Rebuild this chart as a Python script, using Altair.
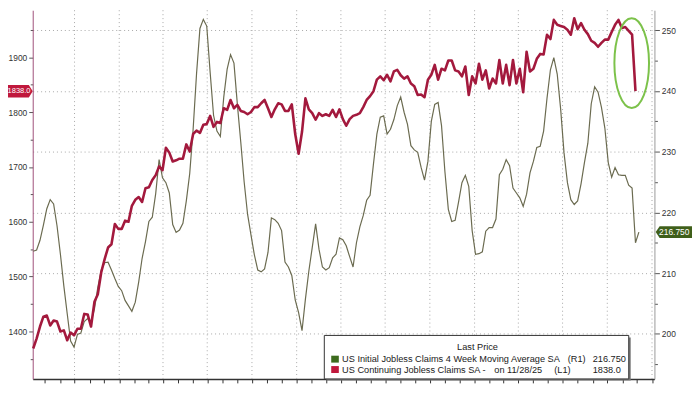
import altair as alt
import pandas as pd

# ---------------- data ----------------
# US Continuing Jobless Claims SA (thousands), weekly, last = 11/28/25
red_values = [
    1369, 1387, 1409, 1427, 1429, 1411, 1420, 1418, 1400, 1402,
    1384, 1398, 1393, 1405, 1405, 1432, 1431, 1409, 1454, 1468,
    1508, 1532, 1553, 1559, 1596, 1587, 1587, 1602, 1600, 1629,
    1640, 1645, 1636, 1661, 1663, 1676, 1685, 1701, 1694, 1735,
    1726, 1710, 1712, 1715, 1715, 1741,
    1728, 1760, 1766, 1762, 1777, 1778, 1793, 1773, 1782, 1780,
    1807, 1804, 1822, 1807, 1813, 1802, 1800, 1796, 1800, 1809,
    1809, 1816, 1822, 1807, 1791, 1805, 1816, 1814, 1802, 1802,
    1814, 1760, 1724, 1764, 1825, 1805, 1798, 1786, 1798, 1793,
    1796, 1793, 1804, 1791, 1805,
    1787, 1775, 1787, 1793, 1795, 1798, 1809, 1822, 1829, 1838,
    1859, 1865, 1858, 1868, 1856, 1874, 1877, 1867, 1861, 1865,
    1852, 1847, 1831, 1832, 1827, 1859, 1868, 1886, 1859, 1879,
    1876, 1894, 1894, 1876, 1874, 1865, 1883, 1831, 1865, 1852,
    1888, 1859, 1876, 1843, 1861,
    1852, 1895, 1852, 1886, 1849, 1895, 1852, 1879, 1836, 1910,
    1874, 1879, 1897, 1906, 1905, 1941, 1933, 1968, 1959, 1957,
    1955, 1950, 1941, 1971, 1951, 1962, 1950, 1942, 1930, 1926,
    1919, 1926, 1932, 1932, 1946, 1959, 1968, 1953, 1955, 1948,
    1941, 1838.0,
]
red_last_date = "2025-11-28"

# US Initial Jobless Claims 4 Week Moving Average SA (thousands), weekly
green_values = [
    213.6, 213.8, 215.4, 217.9, 220.6, 222.1, 221.4, 217.8, 213.1, 207.9,
    203.3, 198.8, 197.8, 199.9, 200.1, 202.0, 202.5, 201.9, 204.1, 207.7,
    210.5, 211.7, 211.8, 210.5, 209.1, 207.8, 207.1, 205.5, 204.6, 203.7,
    205.2, 208.5, 212.4, 215.2, 218.5, 219.2, 223.1, 228.7, 225.7, 224.9,
    223.2, 218.0, 216.7, 217.1, 218.2, 221.9, 226.4, 233.7, 242.8, 250.3,
    251.8, 250.7, 243.1, 236.0, 233.4, 232.5, 239.0, 243.6, 246.0, 244.6,
    237.8, 231.6, 225.0, 219.7, 216.3, 213.0, 210.5, 210.2, 210.7, 213.4,
    219.1, 218.8, 218.2, 217.0, 211.8, 211.0, 209.6, 205.6, 203.5, 200.5,
    205.7, 210.3, 214.2, 218.1, 213.9, 211.0, 210.5, 210.9, 212.5, 213.1,
    215.8, 215.5, 214.5, 212.7, 211.0, 215.0, 217.6, 219.5, 222.0, 222.8,
    228.0, 232.9, 235.7, 235.9, 232.9, 233.7, 235.3, 237.6, 239.0, 236.5,
    234.5, 231.0, 230.3, 229.9, 227.4, 225.3, 228.4, 235.0, 237.8, 238.1,
    234.3, 226.7, 220.5, 218.5, 218.7, 221.7, 224.9, 226.1, 224.3, 217.0,
    213.1, 213.2, 213.5, 216.9, 217.5, 217.5, 218.9, 226.2, 227.1, 228.7,
    227.7, 224.0, 223.2, 222.4, 221.0, 223.0, 226.5, 228.4, 230.7, 230.9,
    233.4, 238.8, 243.5, 245.5, 242.8, 237.1, 229.8, 224.9, 222.1, 221.3,
    221.9, 224.7, 228.2, 231.4, 237.9, 240.7, 239.8, 237.3, 233.9, 228.2,
    225.8, 227.4, 226.2, 226.1, 226.1, 224.5, 224.0, 215.0, 216.75,
]
green_last_date = "2025-12-05"

legend_names = [
    "US Initial Jobless Claims 4 Week Moving Average SA",
    "US Continuing Jobless Claims SA -",
]
legend_axes = ["(R1)", "(L1)"]
legend_note = "on 11/28/25"
legend_title = "Last Price"
green_label = f"{green_values[-1]:.3f}"
red_label = f"{red_values[-1]:.1f}"

# ---------------- tables ----------------
red_dates = pd.date_range(end=red_last_date, periods=len(red_values), freq="7D")
green_dates = pd.date_range(end=green_last_date, periods=len(green_values), freq="7D")
red_df = pd.DataFrame({"date": red_dates.strftime("%Y-%m-%d"), "value": red_values})
green_df = pd.DataFrame({"date": green_dates.strftime("%Y-%m-%d"), "value": green_values})
quarter_df = pd.DataFrame(
    {"date": pd.date_range("2022-10-01", "2026-01-01", freq="QS").strftime("%Y-%m-%d")}
)
month_ticks = [
    alt.DateTime(year=d.year, month=d.month, date=1)
    for d in pd.date_range("2022-08-01", "2026-01-01", freq="MS")
]
one = pd.DataFrame({"k": [0]})

# ---------------- styles ----------------
FONT = "Liberation Sans"
RED = "#a3193d"
RED_TAG = "#c0183c"
GREEN_LINE = "#6b6b50"
GREEN_TAG = "#3f5f1a"
GREEN_SQ = "#3d6b1e"
GRID = "#a8a8a8"

x_scale = alt.Scale(domain=[alt.DateTime(year=2022, month=7, date=7),
                            alt.DateTime(year=2026, month=1, date=6)])
x_axis = alt.Axis(title=None, labels=False, grid=False, values=month_ticks,
                  tickSize=4, tickColor="#333", domainColor="#333", domainWidth=1.5)
left_scale = alt.Scale(domain=[1313.5, 1985.6], nice=False, zero=False)
right_scale = alt.Scale(domain=[192.56, 253.31], nice=False, zero=False)

left_axis = alt.Axis(
    orient="left", title=None, grid=False,
    values=list(range(1350, 2000, 50)),
    labelExpr="datum.value % 100 == 0 ? format(datum.value, 'd') : ''",
    tickSize={"condition": {"test": "datum.value % 100 == 0", "value": 4}, "value": 2.5},
    tickColor="#555", domainColor="#a0507a", labelFont=FONT, labelFontSize=8.5,
    labelColor="#333", labelPadding=2,
)
right_axis = alt.Axis(
    orient="right", title=None, grid=True,
    values=list(range(195, 255, 5)),
    labelExpr="datum.value % 10 == 0 ? format(datum.value, 'd') : ''",
    tickSize={"condition": {"test": "datum.value % 10 == 0", "value": 5}, "value": 3},
    gridOpacity={"condition": {"test": "datum.value % 10 == 0", "value": 1}, "value": 0},
    gridDash=[1, 3], gridColor=GRID, gridWidth=1,
    tickColor="#555", domainColor="#999", labelFont=FONT, labelFontSize=8.5,
    labelColor="#333", labelPadding=2,
)

# ---------------- layers ----------------
vgrid = alt.Chart(quarter_df).mark_rule(color=GRID, strokeDash=[1, 3], strokeWidth=1).encode(
    x=alt.X("date:T", scale=x_scale, axis=x_axis)
)
green_line = alt.Chart(green_df).mark_line(color=GREEN_LINE, strokeWidth=1.2).encode(
    x=alt.X("date:T", scale=x_scale, axis=x_axis),
    y=alt.Y("value:Q", scale=right_scale, axis=right_axis),
)
red_line = alt.Chart(red_df).mark_line(color=RED, strokeWidth=2.6, strokeJoin="round").encode(
    x=alt.X("date:T", scale=x_scale, axis=x_axis),
    y=alt.Y("value:Q", scale=left_scale, axis=left_axis),
)

# tag / annotation shapes (unit paths, scaled by size)
left_tag_shape = "M -1 -0.38 L 0.76 -0.38 L 1 0 L 0.76 0.38 L -1 0.38 Z"
right_tag_shape = "M -1 0 L -0.82 -0.27 L 1 -0.27 L 1 0.27 L -0.82 0.27 Z"
ellipse_shape = ("M 0 -1 C 0.2126 -1 0.385 -0.5523 0.385 0 C 0.385 0.5523 0.2126 1 0 1 "
                 "C -0.2126 1 -0.385 0.5523 -0.385 0 C -0.385 -0.5523 -0.2126 -1 0 -1 Z")

red_tag_df = pd.DataFrame({"value": [red_values[-1]], "label": [red_label]})
green_tag_df = pd.DataFrame({"value": [green_values[-1]], "label": [green_label]})

red_tag = alt.Chart(red_tag_df).mark_point(
    shape=left_tag_shape, size=1089, filled=True, color=RED_TAG, opacity=1, strokeWidth=0
).encode(x=alt.value(-16.5), y=alt.Y("value:Q", scale=left_scale, axis=None))
red_tag_text = alt.Chart(red_tag_df).mark_text(
    align="center", baseline="middle", color="white", font=FONT, fontSize=7.6
).encode(x=alt.value(-13.8), y=alt.Y("value:Q", scale=left_scale, axis=None), text="label:N")

green_tag = alt.Chart(green_tag_df).mark_point(
    shape=right_tag_shape, size=1936, filled=True, color=GREEN_TAG, opacity=1, strokeWidth=0
).encode(x=alt.value(652.3), y=alt.Y("value:Q", scale=right_scale, axis=None))
green_tag_text = alt.Chart(green_tag_df).mark_text(
    align="left", baseline="middle", color="white", font=FONT, fontSize=8.5
).encode(x=alt.value(633.7), y=alt.Y("value:Q", scale=right_scale, axis=None), text="label:N")

ellipse = alt.Chart(one).mark_point(
    shape=ellipse_shape, size=8281, filled=False, color="#7cc24a", strokeWidth=2, opacity=1
).encode(x=alt.value(606), y=alt.value(53.5))

legend_box = alt.Chart(one).mark_rect(fill="white", stroke="#333", strokeWidth=1).encode(
    x=alt.value(295), x2=alt.value(603), y=alt.value(329), y2=alt.value(373)
)
legend_shadow = alt.Chart(one).mark_rect(fill="#777").encode(
    x=alt.value(297), x2=alt.value(605), y=alt.value(331), y2=alt.value(374.5)
)


def txt(x, y, s, align="left"):
    return alt.Chart(one).mark_text(
        text=s, align=align, baseline="middle", font=FONT, fontSize=9.3, color="#1a1a1a"
    ).encode(x=alt.value(x), y=alt.value(y))


def square(x, y, color):
    return alt.Chart(one).mark_rect(color=color).encode(
        x=alt.value(x), x2=alt.value(x + 7.7), y=alt.value(y - 3.5), y2=alt.value(y + 3.5)
    )


legend_layers = [
    legend_shadow,
    legend_box,
    txt(450, 341, legend_title, align="center"),
    square(302, 353, GREEN_SQ),
    square(302, 363.5, RED_TAG),
    txt(313, 353, legend_names[0]),
    txt(541.3, 353, legend_axes[0]),
    txt(566.5, 353, green_label),
    txt(313, 364, legend_names[1]),
    txt(467, 364, legend_note),
    txt(527.7, 364, legend_axes[1]),
    txt(566.5, 364, red_label),
]

chart = alt.layer(
    vgrid, green_line, red_line, red_tag, red_tag_text, green_tag, green_tag_text,
    ellipse, *legend_layers
).resolve_scale(y="independent").properties(
    width=629, height=373, autosize="none",
    padding={"left": 25, "top": 0, "right": 38, "bottom": 13},
    background="white",
).configure_view(stroke=None)

chart.save("out.html", embed_options={"renderer": "svg", "actions": False})
